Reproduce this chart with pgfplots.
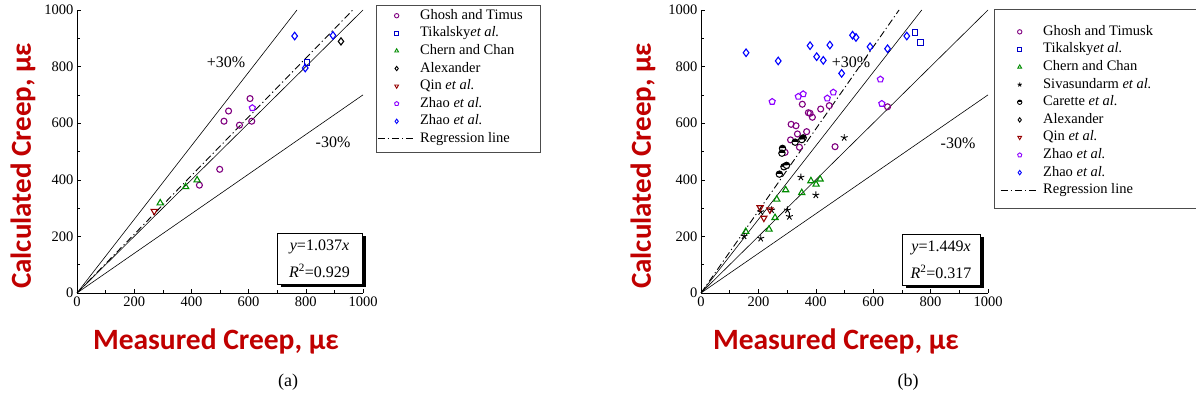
\documentclass[border=0pt]{standalone}
\usepackage{fontspec}
\setmainfont{Liberation Serif}
\newfontfamily\labfont{Carlito}
\usepackage{pgfplots}
\pgfplotsset{compat=1.18}
\usetikzlibrary{plotmarks}
\definecolor{labred}{RGB}{192,0,0}
\definecolor{cGhosh}{RGB}{128,0,128}
\definecolor{tikblue}{RGB}{0,0,200}
\definecolor{cChern}{RGB}{0,140,0}
\definecolor{cQin}{RGB}{150,0,0}
\definecolor{cZhaoV}{RGB}{140,0,255}
\definecolor{cZhaoB}{RGB}{0,0,255}

\pgfplotsset{
  creep/.style={
    scale only axis, width=286pt, height=283pt,
    xmin=0,xmax=1000,ymin=0,ymax=1000,
    axis lines=left, axis line style={-,black,line width=0.6pt},
    xtick={0,200,...,1000}, ytick={0,200,...,1000},
    minor tick num=1, tick align=inside, major tick length=4pt, minor tick length=3pt,
    tick style={black,line width=0.5pt},
    ticklabel style={font=\fontsize{14.5}{16}\selectfont},
    /pgf/number format/assume math mode=true,
    scaled ticks=false, /pgf/number format/1000 sep={},
    clip=false,
    legend cell align=left,
    legend image code/.code={\draw[mark repeat=2,mark phase=2] plot coordinates {(0pt,0pt)(19pt,0pt)(38pt,0pt)};},
    every legend image post/.style={mark size=2.2pt, line width=0.9pt},
    legend style={draw=none, fill=none, inner sep=0pt, font=\fontsize{14.5}{16}\selectfont,
      row sep=2.6pt, column sep=3pt, nodes={inner sep=1pt, text height=10pt, text depth=3pt}},
  },
  refl/.style={black, line width=0.6pt, no marks, forget plot},
  reg/.style={black, line width=0.9pt, no marks, dash pattern=on 7pt off 3pt on 1.2pt off 3pt},
  sGhosh/.style={only marks, mark=o, mark size=3pt, color=cGhosh, line width=1.1pt},
  sTik/.style={only marks, mark=square, mark size=2.8pt, color=tikblue, line width=1.1pt},
  sChern/.style={only marks, mark=triangle, mark size=3.6pt, color=cChern, line width=1.1pt},
  sSiva/.style={only marks, mark=star, mark size=3.6pt, color=black, line width=0.9pt},
  sCar/.style={only marks, mark=halfcircle*, mark size=3.2pt, color=black, fill=black, line width=1pt},
  sAlex/.style={only marks, mark=diamond, mark size=3.6pt, color=black, line width=1.1pt},
  sQin/.style={only marks, mark=triangle, mark size=3.6pt, color=cQin, line width=1.1pt, mark options={rotate=180}},
  sZV/.style={only marks, mark=pentagon, mark size=3.2pt, color=cZhaoV, line width=1.1pt},
  sZB/.style={only marks, mark=diamond, mark size=3.8pt, color=cZhaoB, line width=1.1pt},
}

\begin{document}
\begin{tikzpicture}
% ---------------- (a) ----------------
\begin{axis}[creep, at={(77pt,113pt)}, anchor=south west,
  legend style={at={(1.049,1.007)}, anchor=north west}]
\addplot[refl] coordinates {(0,0) (769.2,1000)};
\addplot[refl] coordinates {(0,0) (1000,1000)};
\addplot[refl] coordinates {(0,0) (1000,700)};
\addplot[sGhosh] coordinates {(499,437) (428,381) (514,607) (530,643) (568,593) (605,687) (611,607)};
\addlegendentry{Ghosh and Timus}
\addplot[sTik] coordinates {(804,814)};
\addlegendentry{Tikalsky\textit{et al.}}
\addplot[sChern] coordinates {(291,318) (380,375) (420,399)};
\addlegendentry{Chern and Chan}
\addplot[sAlex] coordinates {(923,889)};
\addlegendentry{Alexander}
\addplot[sQin] coordinates {(270,289)};
\addlegendentry{Qin \textit{et al.}}
\addplot[sZV] coordinates {(613,654)};
\addlegendentry{Zhao \textit{et al.}}
\addplot[sZB] coordinates {(761,908) (895,910) (798,795)};
\addlegendentry{Zhao \textit{et al.}}
\addplot[reg] coordinates {(0,0) (964.3,1000)};
\addlegendentry{Regression line}
\end{axis}
% ---------------- (b) ----------------
\begin{axis}[creep, at={(701pt,113pt)}, anchor=south west, width=287pt,
  legend style={at={(1.042,0.95)}, anchor=north west}]
\addlegendimage{sGhosh}\addlegendentry{Ghosh and Timusk}
\addlegendimage{sTik}\addlegendentry{Tikalsky\textit{et al.}}
\addlegendimage{sChern}\addlegendentry{Chern and Chan}
\addlegendimage{sSiva}\addlegendentry{Sivasundarm \textit{et al.}}
\addlegendimage{sCar}\addlegendentry{Carette \textit{et al.}}
\addlegendimage{sAlex}\addlegendentry{Alexander}
\addlegendimage{sQin}\addlegendentry{Qin \textit{et al.}}
\addlegendimage{sZV}\addlegendentry{Zhao \textit{et al.}}
\addlegendimage{sZB}\addlegendentry{Zhao \textit{et al.}}
\addlegendimage{reg}\addlegendentry{Regression line}
\addplot[refl] coordinates {(0,0) (769.2,1000)};
\addplot[refl] coordinates {(0,0) (1000,1000)};
\addplot[refl] coordinates {(0,0) (1000,700)};
\addplot[sGhosh, forget plot] coordinates {(353,667) (447,662) (417,650) (374,637) (380,635) (388,621) (314,596) (331,591) (368,570) (336,562) (312,541) (343,515) (467,517) (293,497) (650,658)};
\addplot[sChern, forget plot] coordinates {(156,217) (237,225) (258,266) (264,331) (295,364) (351,354) (383,396) (401,384) (415,402)};
\addplot[sSiva, forget plot] coordinates {(150,201) (208,193) (208,287) (246,293) (301,293) (308,270) (348,409) (400,346) (499,549)};
\addplot[sCar, forget plot] coordinates {(273,420) (284,511) (282,494) (289,446) (298,451) (328,533) (356,548) (351,542)};
\addplot[sQin, forget plot] coordinates {(206,302) (219,265) (240,294)};
\addplot[sZV, forget plot] coordinates {(248,676) (339,694) (356,703) (440,688) (461,709) (625,755) (630,669)};
\addplot[sZB, forget plot] coordinates {(157,849) (269,820) (380,874) (403,835) (426,822) (449,876) (490,776) (528,911) (540,903) (589,870) (650,863) (717,908)};
\addplot[sTik, forget plot] coordinates {(746,921) (765,886)};
\addplot[reg, forget plot] coordinates {(0,0) (690.1,1000)};
\end{axis}
% legend frames
\draw[black!70, line width=0.8pt] (376pt,254pt) rectangle (540pt,401pt);
\draw[black!70, line width=0.8pt] (994pt,198pt) rectangle (1215pt,397pt);
% regression boxes
\fill[black] (280.5pt,118.5pt) rectangle (365.5pt,169.5pt);
\draw[fill=white, line width=0.8pt] (277pt,122pt) rectangle (362pt,173pt);
\node[font=\fontsize{16}{18}\selectfont] at (319.5pt,159pt) {\textit{y}=1.037\textit{x}};
\node[font=\fontsize{16}{18}\selectfont] at (319.5pt,135pt) {\textit{R}$^{\mathrm{2}}$=0.929};
\fill[black] (905.5pt,117.5pt) rectangle (983.5pt,168.5pt);
\draw[fill=white, line width=0.8pt] (902pt,121pt) rectangle (980pt,172pt);
\node[font=\fontsize{16}{18}\selectfont] at (941pt,158pt) {\textit{y}=1.449\textit{x}};
\node[font=\fontsize{16}{18}\selectfont] at (941pt,134pt) {\textit{R}$^{\mathrm{2}}$=0.317};
% line annotations
\node[font=\fontsize{16}{18}\selectfont] at (226pt,344pt) {+30\%};
\node[font=\fontsize{16}{18}\selectfont] at (333pt,264pt) {-30\%};
\node[font=\fontsize{16}{18}\selectfont] at (851pt,344pt) {+30\%};
\node[font=\fontsize{16}{18}\selectfont] at (958pt,263pt) {-30\%};
% axis titles
\node[font=\labfont\bfseries\fontsize{29.5}{31}\selectfont, text=labred] at (216pt,65pt) {Measured Creep, με};
\node[font=\labfont\bfseries\fontsize{29}{31}\selectfont, text=labred, rotate=90] at (23pt,240pt) {Calculated Creep, με};
\node[font=\labfont\bfseries\fontsize{29.5}{31}\selectfont, text=labred] at (836pt,65pt) {Measured Creep, με};
\node[font=\labfont\bfseries\fontsize{29}{31}\selectfont, text=labred, rotate=90] at (643pt,240pt) {Calculated Creep, με};
% captions
\node[font=\fontsize{18}{20}\selectfont] at (288pt,24pt) {(a)};
\node[font=\fontsize{18}{20}\selectfont] at (908pt,24pt) {(b)};
\pgfresetboundingbox
\path[use as bounding box] (0pt,0pt) rectangle (1196pt,406pt);
\end{tikzpicture}
\end{document}
